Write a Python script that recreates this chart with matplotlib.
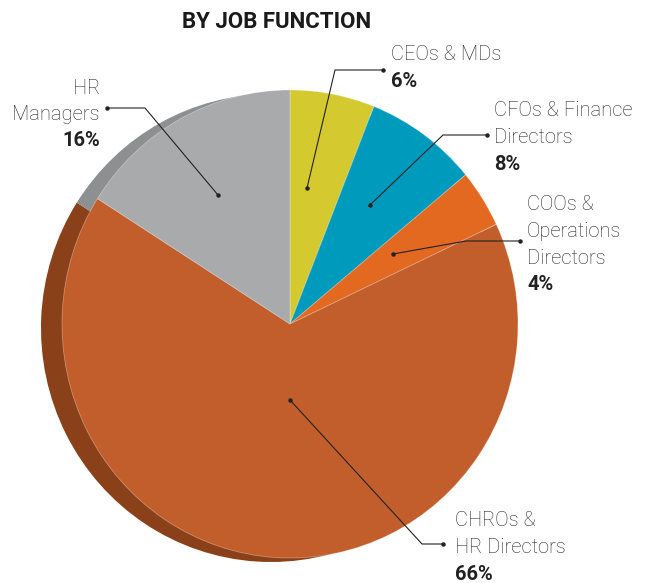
import matplotlib
matplotlib.use("Agg")
from matplotlib import pyplot as plt

# data
labels = ["CEOs & MDs", "CFOs & Finance\nDirectors", "COOs &\nOperations\nDirectors",
          "CHROs &\nHR Directors", "HR\nManagers"]
shares = [6, 8, 4, 66, 16]
face_colors = ["#D4C92E", "#009ABD", "#E2691F", "#C25E2B", "#A9AAAC"]
side_colors = ["#9A9220", "#006F8A", "#A34A15", "#8A4018", "#8E8F91"]

W, H = 646, 583
fonts = ["Roboto", "DejaVu Sans"]
txt_col = "#262626"

fig = plt.figure(figsize=(W / 100, H / 100), dpi=100)


def pie_axes(x0, y0, w, h, colors, edge):
    ax = fig.add_axes([x0 / W, (H - y0 - h) / H, w / W, h / H])
    ax.pie(shares, colors=colors, startangle=90, counterclock=False,
           radius=1, wedgeprops=dict(linewidth=0.6 if edge else 0,
                                     edgecolor=(1, 1, 1, 0.35)))
    ax.set_aspect("auto")
    ax.set_xlim(-1, 1)
    ax.set_ylim(-1, 1)
    ax.axis("off")
    return ax


# side (depth) of the pie, then the face on top
pie_axes(41, 94, 460, 468, side_colors, False)
pie_axes(62, 90, 456, 468, face_colors, True)

# overlay for text and leader lines, pixel coordinates
ov = fig.add_axes([0, 0, 1, 1])
ov.set_xlim(0, W)
ov.set_ylim(H, 0)
ov.axis("off")
ov.patch.set_alpha(0)

ov.text(277, 22, "BY JOB FUNCTION", ha="center", va="center", fontsize=16,
        fontweight="bold", color="#1a1a1a", family=fonts)

# label layout: (text x, first line y, align, leader points)
layout = [
    (391, 55, "left", [(383, 70), (335, 70), (307, 188)]),
    (494, 111, "left", [(487, 135), (443, 135), (370, 205)]),
    (527, 205, "left", [(520, 241), (466, 241), (393, 254)]),
    (455, 521, "left", [(443, 544), (422, 544), (290, 400)]),
    (100, 88, "right", [(107, 108), (145, 108), (218, 195)]),
]
step = 26.5

for lab, pct, (tx, ty, al, pts) in zip(labels, shares, layout):
    lines = lab.split("\n")
    for i, ln in enumerate(lines):
        ov.text(tx, ty + i * step, ln, ha=al, va="center", fontsize=14.5,
                fontweight="light", color=txt_col, family=fonts)
    ov.text(tx, ty + len(lines) * step, f"{pct}%", ha=al, va="center",
            fontsize=14.5, fontweight="bold", color="#222222", family=fonts)
    xs = [p[0] for p in pts]
    ys = [p[1] for p in pts]
    ov.plot(xs, ys, color="#222222", lw=0.8)
    ov.plot([xs[0], xs[-1]], [ys[0], ys[-1]], "o", color="#222222", ms=2.2)

fig.savefig("out.png", dpi=100)
